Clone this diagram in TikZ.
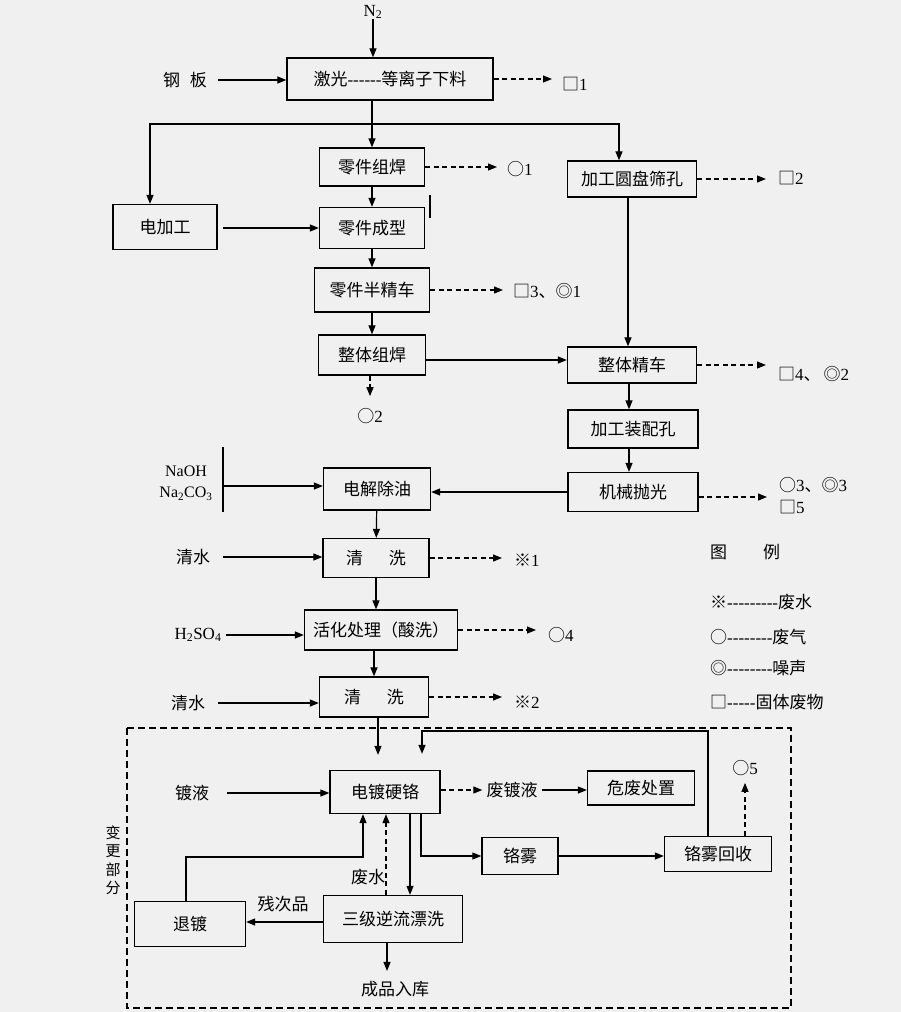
\documentclass[tikz,border=0pt]{standalone}
\usepackage{fontspec}
\setmainfont{Liberation Serif}[Ligatures=TeXOff]
\newfontfamily\cjk{Noto Sans CJK SC}[Ligatures=TeXOff]
\usetikzlibrary{arrows.meta}
\newcommand\zh[1]{{\cjk #1}}
\begin{document}
\begin{tikzpicture}[x=1pt,y=-1pt,
  every node/.style={font=\fontsize{17}{20}\selectfont, inner sep=0pt},
  box/.style 2 args={draw, line width=1.3pt, minimum width=#1pt, minimum height=#2pt},
  ln/.style={line width=1.2pt},
  arr/.style={line width=1.2pt, -{Triangle[length=9pt,width=7pt]}},
  darr/.style={arr, dash pattern=on 5pt off 3.5pt},
  frame/.style={line width=1.2pt, dash pattern=on 7pt off 4pt}]
\fill[gray!12] (0,0) rectangle (901,1012);
\useasboundingbox (0,0) rectangle (901,1012);

% ---------- upper part ----------
\node[box={206}{42}] (laser) at (390,79) {\zh{激光}------\zh{等离子下料}};
\node (n2) at (373,12) {N\textsubscript{2}};
\node (gangban) at (185,80) {\zh{钢\hspace{10pt}板}};
\node[anchor=west] (s1) at (562,84) {\zh{□}1};

\node[box={105}{38}] (zujian) at (372,167) {\zh{零件组焊}};
\node[anchor=west] (o1) at (507,169) {\zh{○}1};
\node[box={105}{41}] (chengxing) at (372,228) {\zh{零件成型}};
\node[box={115}{44}] (banjing) at (372,290) {\zh{零件半精车}};
\node[anchor=west] (s3) at (513,291) {\zh{□}3\zh{、◎}1};
\node[box={107}{40}] (zhengti) at (372,355) {\zh{整体组焊}};
\node (o2) at (370,416) {\zh{○}2};
\node[box={104}{45}] (dianjia) at (165,227) {\zh{电加工}};

\node[box={129}{36}] (yuanpan) at (632,179) {\zh{加工圆盘筛孔}};
\node[anchor=west] (s2) at (778,178) {\zh{□}2};
\node[box={129}{36}] (jingche) at (632,365) {\zh{整体精车}};
\node[anchor=west] (s4) at (778,374) {\zh{□}4\zh{、\,◎}2};
\node[box={130}{38}] (zhuangpei) at (633,429) {\zh{加工装配孔}};
\node[box={130}{39}] (paoguang) at (633,492) {\zh{机械抛光}};
\node[anchor=west] (mix1) at (779,485) {\zh{○}3\zh{、◎}3};
\node[anchor=west] (mix2) at (779,507) {\zh{□}5};

\node[box={107}{42}] (chuyou) at (377,489) {\zh{电解除油}};
\node[align=center, font=\fontsize{16}{21}\selectfont] (naoh) at (186,483) {NaOH\\Na\textsubscript{2}CO\textsubscript{3}};
\coordinate (bartop) at (223,447);
\coordinate (barbot) at (223,512);
\coordinate (barmid) at (223,486);
\node[box={106}{39}] (qx1) at (376,558) {\zh{清\hspace{26pt}洗}};
\node (qs1) at (193,557) {\zh{清水}};
\node[anchor=west] (x1) at (514,560) {\zh{※}1};
\node[box={153}{40}] (huohua) at (381,630) {\zh{活化处理（酸洗）}};
\node (h2so4) at (198,635) {H\textsubscript{2}SO\textsubscript{4}};
\node[anchor=west] (o4) at (548,635) {\zh{○}4};
\node[box={109}{40}] (qx2) at (374,697) {\zh{清\hspace{26pt}洗}};
\node (qs2) at (188,703) {\zh{清水}};
\node[anchor=west] (x2) at (514,702) {\zh{※}2};

% ---------- legend ----------
\node[anchor=west] (tuli) at (710,552) {\zh{图\hspace{36pt}例}};
\node[anchor=west] (lg1) at (710,602) {\zh{※}---------\zh{废水}};
\node[anchor=west] (lg2) at (710,637) {\zh{○}--------\zh{废气}};
\node[anchor=west] (lg3) at (710,668) {\zh{◎}--------\zh{噪声}};
\node[anchor=west] (lg4) at (710,702) {\zh{□}-----\zh{固体废物}};

% ---------- changed part ----------
\node[box={110}{43}] (diandu) at (385,792) {\zh{电镀硬铬}};
\node (duye) at (192,793) {\zh{镀液}};
\node (fdy) at (512,790) {\zh{废镀液}};
\node[box={107}{34}] (weifei) at (641,788) {\zh{危废处置}};
\node[box={76}{37}] (gewu) at (520,856) {\zh{铬雾}};
\node[box={107}{35}] (huishou) at (718,854) {\zh{铬雾回收}};
\node (o5) at (745,768) {\zh{○}5};
\node[box={139}{47}] (sanji) at (393,919) {\zh{三级逆流漂洗}};
\node[box={111}{45}] (tuidu) at (190,924) {\zh{退镀}};
\node (feishui) at (368,877) {\zh{废水}};
\node (ccp) at (283,904) {\zh{残次品}};
\node (cpk) at (395,989) {\zh{成品入库}};
\node[align=center, font=\cjk\fontsize{15}{18.5}\selectfont] (bgbf) at (113,860) {变\\更\\部\\分};

% ---------- connectors: upper ----------
\draw[arr] (n2.south) -- (n2.south |- laser.north);
\draw[arr, shorten <=11pt] (gangban.east) -- (gangban.east -| laser.west);
\draw[darr, shorten >=10pt] (laser.east) -- (laser.east -| s1.west);
\draw[arr] (laser.south -| zujian.north) -- (zujian.north);
\coordinate (br) at (373,124);
\coordinate (brL) at (150,124);
\coordinate (brR) at (619,124);
\draw[arr] (br) -- (brL) -- (brL |- dianjia.north);
\draw[arr] (br) -- (brR) -- (brR |- yuanpan.north);
\draw[darr, shorten >=10pt] (zujian.east) -- (zujian.east -| o1.west);
\draw[arr] (zujian) -- (chengxing);
\draw[arr] (chengxing) -- (banjing);
\draw[arr] (banjing) -- (zhengti);
\draw[ln] (430,195) -- (430,218);
\draw[arr, shorten <=5pt] (dianjia.east |- chengxing.west) -- (chengxing.west);
\draw[darr, shorten >=10pt] (banjing.east) -- (banjing.east -| s3.west);
\coordinate (y360) at (0,360);
\draw[arr] (zhengti.east |- y360) -- (jingche.west |- y360);
\coordinate (x628) at (628,0);
\draw[arr] (yuanpan.south -| x628) -- (jingche.north -| x628);
\draw[darr, shorten >=12pt] (yuanpan.east) -- (yuanpan.east -| s2.west);
\draw[darr, shorten >=12pt] (jingche.east) -- (jingche.east -| s4.west);
\draw[darr, shorten >=12pt] (zhengti.south -| o2.north) -- (o2.north);
\coordinate (x629) at (629,0);
\draw[arr] (jingche.south -| x629) -- (zhuangpei.north -| x629);
\draw[arr] (zhuangpei.south -| x629) -- (paoguang.north -| x629);
\coordinate (y497) at (0,497);
\draw[darr, shorten >=12pt] (paoguang.east |- y497) -- (mix1.west |- y497);
\draw[arr] (paoguang.west) -- (paoguang.west -| chuyou.east);
\draw[ln] (bartop) -- (barbot);
\draw[arr] (barmid) -- (barmid -| chuyou.west);
\draw[arr] (chuyou) -- (qx1);
\draw[arr, shorten <=13pt] (qs1.east) -- (qs1.east -| qx1.west);
\draw[darr, shorten >=12pt] (qx1.east) -- (qx1.east -| x1.west);
\draw[arr] (qx1.south) -- (qx1.south |- huohua.north);
\draw[arr, shorten <=4pt] (h2so4.east) -- (h2so4.east -| huohua.west);
\draw[darr, shorten >=12pt] (huohua.east) -- (huohua.east -| o4.west);
\draw[arr] (huohua.south -| qx2.north) -- (qx2.north);
\draw[arr, shorten <=13pt] (qs2.east) -- (qs2.east -| qx2.west);
\draw[darr, shorten >=12pt] (qx2.east) -- (qx2.east -| x2.west);

% ---------- connectors: changed part ----------
\draw[frame] (127,728) rectangle (791,1008);
\coordinate (x378) at (378,0);
\draw[arr, shorten >=15pt] (qx2.south -| x378) -- (diandu.north -| x378);
\coordinate (topl) at (422,731);
\coordinate (x708) at (708,0);
\draw[arr, shorten >=16pt] (huishou.north -| x708) |- (topl) -- (topl |- diandu.north);
\draw[arr, shorten <=18pt] (duye.east) -- (duye.east -| diandu.west);
\draw[darr, shorten >=4pt] (diandu.east |- fdy.west) -- (fdy.west);
\draw[arr, shorten <=4pt] (fdy.east) -- (fdy.east -| weifei.west);
\coordinate (x421) at (421,0);
\draw[arr] (diandu.south -| x421) |- (gewu.west);
\draw[arr] (gewu.east) -- (gewu.east -| huishou.west);
\draw[darr, shorten >=7pt] (huishou.north -| o5.south) -- (o5.south);
\coordinate (x410) at (410,0);
\draw[arr] (diandu.south -| x410) -- (sanji.north -| x410);
\coordinate (x386) at (386,0);
\draw[darr] (sanji.north -| x386) -- (diandu.south -| x386);
\coordinate (turn) at (363,857);
\coordinate (x186) at (186,0);
\draw[arr] (tuidu.north -| x186) |- (turn) -- (turn |- diandu.south);
\coordinate (y922) at (0,922);
\draw[arr] (sanji.west |- y922) -- (tuidu.east |- y922);
\coordinate (x387) at (387,0);
\draw[arr, shorten >=10pt] (sanji.south -| x387) -- (cpk.north -| x387);
\end{tikzpicture}
\end{document}
